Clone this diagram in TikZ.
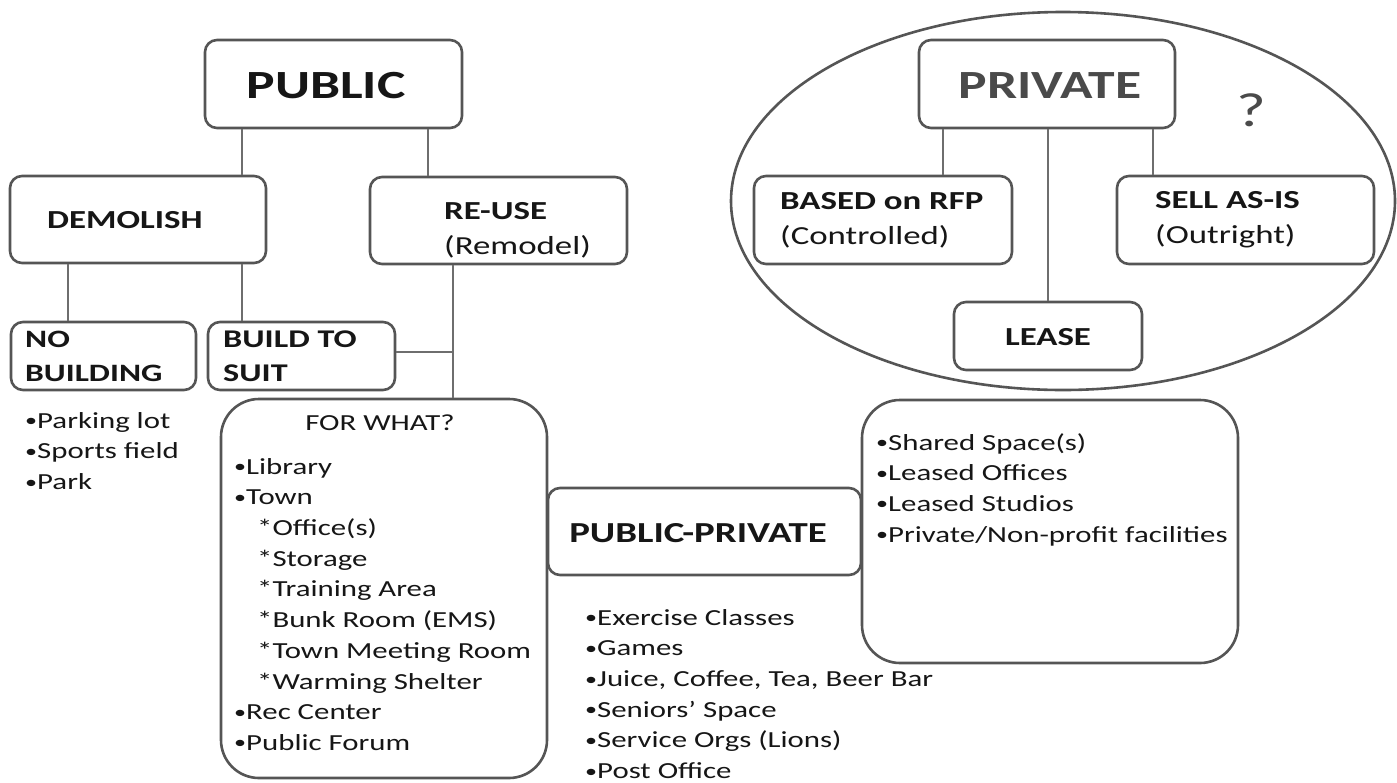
\documentclass[tikz,border=0pt]{standalone}
\usepackage{fontspec}
\usetikzlibrary{shapes.geometric}
\setmainfont{Carlito}[FakeStretch=1.34]
\newcommand\myfs[2]{\fontsize{#1}{#2}\selectfont}
\newcommand\bul{{\fontsize{18}{18}\selectfont\raisebox{1.5pt}{•}}}
\definecolor{boxgray}{HTML}{555555}
\definecolor{linegray}{HTML}{6E6E6E}
\definecolor{ink}{HTML}{161616}
\definecolor{soft}{HTML}{4A4A4A}
\begin{document}
\begin{tikzpicture}[x=1pt,y=-1pt,
  box/.style={draw=boxgray,line width=2.6pt,rounded corners=12pt,inner sep=0pt},
  bigbox/.style={box,rounded corners=38pt},
  conn/.style={draw=linegray,line width=1.4pt},
  txt/.style={inner sep=0pt,text=ink},
  head/.style={txt,font=\bfseries\myfs{40}{48}},
  lab/.style={txt,font=\bfseries\myfs{26}{35},align=left},
  lst/.style={txt,font=\myfs{23}{30.7},align=left,anchor=north west}]
\useasboundingbox[fill=white] (0,0) rectangle (1397,782);

% ---------- PUBLIC side ----------
\node[box,minimum width=257pt,minimum height=88pt] (pub) at (333.5,84) {};
\node[head] (pubt) at (326,86) {PUBLIC};

\node[box,minimum width=256pt,minimum height=87pt] (dem) at (138,219.5) {};
\node[lab,anchor=west] (demt) at (47,220) {DEMOLISH};

\node[box,minimum width=257pt,minimum height=87pt] (reuse) at (498.5,220.5) {};
\node[lab,anchor=west] (reuset) at (444,230) {RE-USE\\\mdseries(Remodel)};

\node[box,minimum width=185pt,minimum height=68pt] (nob) at (103.5,356) {};
\node[lab,anchor=west,font=\bfseries\myfs{25}{34}] (nobt) at (25,356) {NO\\BUILDING};

\node[box,minimum width=187pt,minimum height=68pt] (bts) at (301.5,356) {};
\node[lab,anchor=west,font=\bfseries\myfs{25.5}{34}] (btst) at (223,356) {BUILD TO\\SUIT};

\node[lst] (nobl) at (25,412) {\myfs{23}{30}\bul Parking lot\\\bul Sports field\\\bul Park};

\node[bigbox,minimum width=326pt,minimum height=379pt] (forwhat) at (384,588.5) {};
\node[txt,font=\myfs{23}{28}] (fwt) at (380,423) {FOR WHAT?};
\node[lst] (fwl) at (234,458) {\bul Library\\\bul Town\\\hspace*{23pt}*Office(s)\\\hspace*{23pt}*Storage\\\hspace*{23pt}*Training Area\\\hspace*{23pt}*Bunk Room (EMS)\\\hspace*{23pt}*Town Meeting Room\\\hspace*{23pt}*Warming Shelter\\\bul Rec Center\\\bul Public Forum};

\node[box,minimum width=313pt,minimum height=87pt] (pp) at (704.5,531.5) {};
\node[txt,font=\bfseries\myfs{29}{34}] (ppt) at (698,533) {PUBLIC-PRIVATE};
\node[lst] (ppl) at (585,609) {\bul Exercise Classes\\\bul Games\\\bul Juice, Coffee, Tea, Beer Bar\\\bul Seniors’ Space\\\bul Service Orgs (Lions)\\\bul Post Office};

\node[bigbox,minimum width=376pt,minimum height=263pt] (leased) at (1050,531.5) {};
\node[lst] (leasedl) at (876,433) {\bul Shared Space(s)\\\bul Leased Offices\\\bul Leased Studios\\\bul Private/Non-profit facilities};

% ---------- PRIVATE side ----------
\node[draw=boxgray,line width=2.6pt,ellipse,minimum width=664pt,minimum height=378pt,inner sep=0pt] (oval) at (1063,201) {};
\node[box,minimum width=256pt,minimum height=88pt] (priv) at (1047,84) {};
\node[head,text=soft] (privt) at (1050,86) {PRIVATE};
\node[txt,text=soft,font=\myfs{48}{56}] (q) at (1251,110) {?};

\node[box,minimum width=258pt,minimum height=88pt] (rfp) at (883,220) {};
\node[lab,anchor=west] (rfpt) at (780,220) {BASED on RFP\\\mdseries(Controlled)};

\node[box,minimum width=257pt,minimum height=88pt] (sell) at (1245.5,220) {};
\node[lab,anchor=west] (sellt) at (1155,220) {SELL AS-IS\\\mdseries(Outright)};

\node[box,minimum width=188pt,minimum height=68pt] (lease) at (1048,336) {};
\node[lab] (leaset) at (1048,337) {LEASE};

% ---------- connectors ----------
\draw[conn] (242,0 |- pub.south) -- (242,0 |- dem.north);
\draw[conn] (428,0 |- pub.south) -- (428,0 |- reuse.north);
\draw[conn] (68,0 |- dem.south) -- (68,0 |- nob.north);
\draw[conn] (242,0 |- dem.south) -- (242,0 |- bts.north);
\draw[conn] (453,0 |- reuse.south) -- (453,0 |- forwhat.north);
\coordinate (rj) at (453,352);
\draw[conn] (bts.east |- rj) -- (rj);
\draw[conn] (943,0 |- priv.south) -- (943,0 |- rfp.north);
\draw[conn] (1048,0 |- priv.south) -- (1048,0 |- lease.north);
\draw[conn] (1153,0 |- priv.south) -- (1153,0 |- sell.north);
\end{tikzpicture}
\end{document}
